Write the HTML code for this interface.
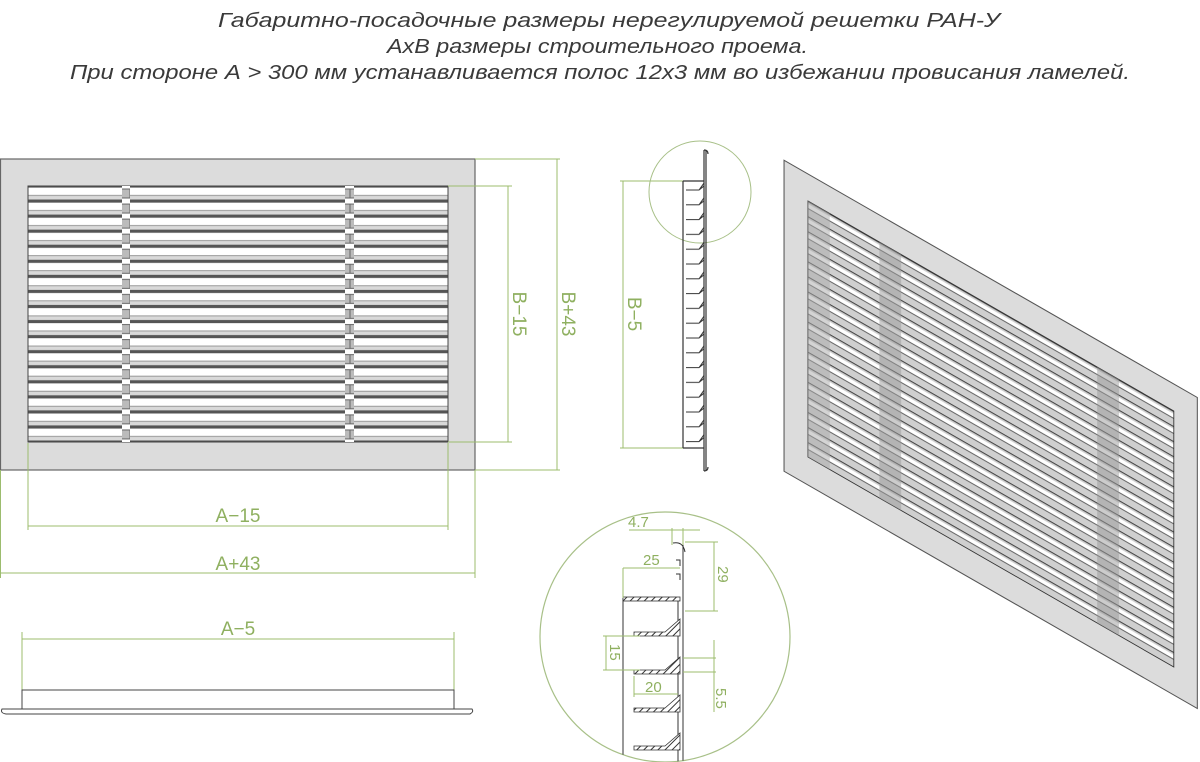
<!DOCTYPE html>
<html><head><meta charset="utf-8"><style>
html,body{margin:0;padding:0;background:#fff;}
svg{display:block;}
</style></head><body>
<svg width="1200" height="762" viewBox="0 0 1200 762" xmlns="http://www.w3.org/2000/svg">
<defs>
  <pattern id="slats" x="0" y="186" width="10" height="15.06" patternUnits="userSpaceOnUse">
    <rect width="10" height="15.06" fill="#fff"/>
    <rect y="0" width="10" height="1.6" fill="#555"/>
    <rect y="9" width="10" height="1" fill="#888"/>
    <rect y="10" width="10" height="3.5" fill="#d9d9d9"/>
    <rect y="13.5" width="10" height="1.6" fill="#555"/>
  </pattern>
  <pattern id="islats" x="0" y="186" width="10" height="15.06" patternUnits="userSpaceOnUse">
    <rect width="10" height="15.06" fill="#cfcfcf"/>
    <rect y="0" width="10" height="1.2" fill="#444"/>
    <rect y="3" width="10" height="4" fill="#fff"/>
    <rect y="7" width="10" height="1" fill="#555"/>
  </pattern>
  <pattern id="posts" x="0" y="186" width="10" height="15.06" patternUnits="userSpaceOnUse">
    <rect width="10" height="15.06" fill="#fff"/>
    <rect y="3" width="10" height="9" fill="#bbb" stroke="#666" stroke-width="1"/>
  </pattern>
  <pattern id="side" x="683" y="181" width="30" height="14.8" patternUnits="userSpaceOnUse">
    <path d="M3 9 H16 L21 2 M16 9 L21 5" stroke="#333" stroke-width="1" fill="none"/>
  </pattern>
  <pattern id="hatch" width="5" height="5" patternUnits="userSpaceOnUse" patternTransform="rotate(45)">
    <rect width="5" height="5" fill="#fff"/><rect width="1" height="5" fill="#333"/>
  </pattern>
  <clipPath id="dc"><circle cx="665" cy="637" r="125"/></clipPath>
</defs>

<g font-family="'Liberation Sans', sans-serif" font-style="italic" font-size="20" fill="#3a3a3a">
  <text x="218" y="27" textLength="782" lengthAdjust="spacingAndGlyphs">Габаритно-посадочные размеры нерегулируемой решетки РАН-У</text>
  <text x="387" y="53" textLength="421" lengthAdjust="spacingAndGlyphs">АхВ размеры строительного проема.</text>
  <text x="70" y="79" textLength="1060" lengthAdjust="spacingAndGlyphs">При стороне А &gt; 300 мм устанавливается полос 12х3 мм во избежании провисания ламелей.</text>
</g>

<rect x="0.5" y="159" width="474.5" height="311" fill="#dcdcdc" stroke="#666" stroke-width="1.2"/>
<rect x="28" y="186" width="420" height="256" fill="url(#slats)" stroke="#444" stroke-width="1"/>
<rect x="122" y="186" width="8" height="256" fill="url(#posts)"/>
<rect x="345" y="186" width="9" height="256" fill="url(#posts)"/>

<g stroke="#9cbc6e" stroke-width="1" fill="none">
  <path d="M448 186 H512 M448 442 H512 M508 186 V442"/>
  <path d="M475 159 H560 M475 470 H560 M557 159 V470"/>
  <path d="M28 443 V530 M448 443 V530 M28 526 H448"/>
  <path d="M0.5 470 V578 M475 470 V578 M0.5 573 H475"/>
  <path d="M22 632 V690 M454 632 V690 M22 639 H454"/>
</g>
<g fill="#8fb060" font-family="'Liberation Sans', sans-serif" font-size="19">
  <text x="238" y="522" text-anchor="middle">A−15</text>
  <text x="238" y="570" text-anchor="middle">A+43</text>
  <text x="238" y="635" text-anchor="middle">A−5</text>
  <text transform="translate(513,314) rotate(90)" text-anchor="middle">B−15</text>
  <text transform="translate(562,314) rotate(90)" text-anchor="middle">B+43</text>
  <text transform="translate(628,314) rotate(90)" text-anchor="middle">B−5</text>
</g>

<rect x="22" y="690" width="432" height="19" fill="#fff" stroke="#444" stroke-width="1"/>
<path d="M2 709 H472 Q474 712 470 714 H6 Q0 713 2 709 Z" fill="#fff" stroke="#444" stroke-width="1"/>

<g stroke="#9cbc6e" fill="none" stroke-width="1">
  <path d="M620 181 H684 M620 448 H684 M623 181 V448"/>
  <circle cx="700" cy="192" r="51" stroke="#a8c088"/>
</g>
<rect x="683" y="181" width="30" height="267" fill="url(#side)"/>
<g stroke="#333" fill="none" stroke-width="1.2">
  <path d="M683 181 V448 M683 181 H704 M683 448 H704"/>
  <path d="M704 150 V471 M706 150 V471"/>
  <path d="M704 150 Q708 150 708 154 M704 471 Q708 471 708 467"/>
</g>

<g transform="matrix(0.871,0.5,0,1,783.6,1)">
  <rect x="0.5" y="159" width="474.5" height="311" fill="#dcdcdc" stroke="#555" stroke-width="1.2"/>
  <rect x="28" y="186" width="420" height="256" fill="url(#islats)" stroke="#333" stroke-width="1"/>
  <rect x="28" y="186" width="25" height="256" fill="#aaa" opacity="0.5"/>
  <rect x="110" y="186" width="25" height="256" fill="#999" opacity="0.5"/>
  <rect x="360" y="186" width="25" height="256" fill="#999" opacity="0.5"/>
</g>

<circle cx="665" cy="637" r="125" fill="#fff" stroke="#a8c088" stroke-width="1.2"/>
<g clip-path="url(#dc)">
  <g stroke="#333" stroke-width="1" fill="none">
    <path d="M623 598 V770 M678 598 V770 M683 540 V770"/>
    <path d="M673 543 Q683 541 685 552 M676 560 H680 V566 M676 574 H680 V580"/>
  </g>
  <rect x="623" y="597" width="57" height="4" fill="url(#hatch)" stroke="#333" stroke-width="0.8"/>
  <g fill="url(#hatch)" stroke="#333" stroke-width="0.8">
    <path d="M634 632 H665 L680 619 V636 H634 Z"/>
    <path d="M634 670 H665 L680 657 V674 H634 Z"/>
    <path d="M634 708 H665 L680 695 V712 H634 Z"/>
    <path d="M634 746 H665 L680 733 V750 H634 Z"/>
  </g>
  <g stroke="#9cbc6e" stroke-width="1" fill="none">
    <path d="M629 530 H700 M672 528 V545 M683 528 V545"/>
    <path d="M623 568 H680 M623 568 V598"/>
    <path d="M685 542 H718 M685 611 H718 M714 542 V611"/>
    <path d="M603 636 H640 M603 670 H640 M606 636 V670"/>
    <path d="M634 676 V697 M634 694 H678"/>
    <path d="M683 658 H716 M683 672 H716 M714 640 V712"/>
  </g>
  <g fill="#8fb060" font-family="'Liberation Sans', sans-serif" font-size="15">
    <text x="628" y="527">4.7</text>
    <text x="643" y="565">25</text>
    <text x="645" y="692">20</text>
    <text transform="translate(718,566) rotate(90)">29</text>
    <text transform="translate(610,644) rotate(90)">15</text>
    <text transform="translate(716,688) rotate(90)">5.5</text>
  </g>
</g>
</svg>
</body></html>
